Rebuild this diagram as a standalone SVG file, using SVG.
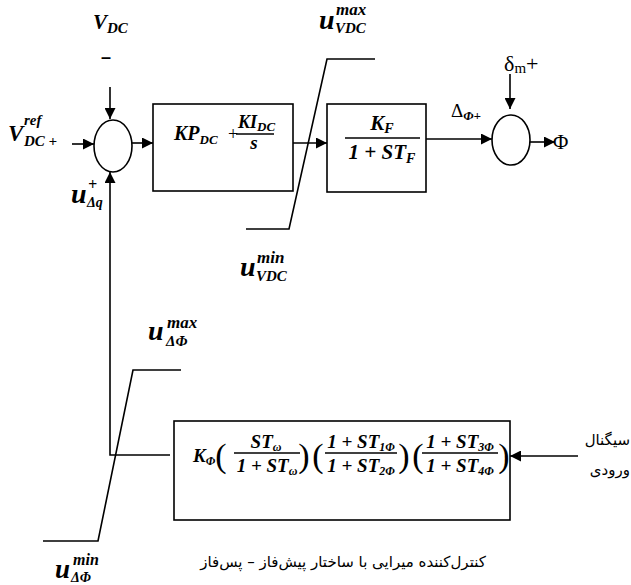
<svg xmlns="http://www.w3.org/2000/svg" width="631" height="585" viewBox="0 0 631 585">
<style>
.m{font-family:"Liberation Serif",serif;font-weight:bold;font-style:italic;fill:#000}
.r{font-family:"Liberation Serif",serif;fill:#000}
.p{font-family:"Liberation Serif",serif;fill:#000;font-size:34px;text-anchor:middle}
.fa{font-family:"DejaVu Sans","Noto Sans",sans-serif;fill:#000}
.ln{stroke:#000;stroke-width:1.6;fill:none}
.bx{fill:#fff;stroke:#000;stroke-width:1.6}
</style>
<defs>
<marker id="ah" markerUnits="userSpaceOnUse" markerWidth="11" markerHeight="11" refX="11" refY="5.5" orient="auto">
<path d="M0,0 L11,5.5 L0,11 z" fill="#000"/>
</marker>
</defs>
<rect width="631" height="585" fill="#fff"/>

<g id="connectors">
<line class="ln" x1="110" y1="87" x2="110" y2="119" marker-end="url(#ah)"/>
<line class="ln" x1="72" y1="144" x2="94" y2="144" marker-end="url(#ah)"/>
<line class="ln" x1="132" y1="143" x2="153" y2="143" marker-end="url(#ah)"/>
<line class="ln" x1="293" y1="143" x2="327" y2="143" marker-end="url(#ah)"/>
<line class="ln" x1="426" y1="139" x2="492" y2="139" marker-end="url(#ah)"/>
<line class="ln" x1="510" y1="74" x2="510" y2="109" marker-end="url(#ah)"/>
<line class="ln" x1="530" y1="142" x2="555" y2="142" marker-end="url(#ah)"/>
<line class="ln" x1="578" y1="456" x2="510" y2="456" marker-end="url(#ah)"/>
<polyline class="ln" points="170,455 110,455 110,172" marker-end="url(#ah)"/>
</g>

<g id="sat1">
<polyline class="ln" points="246,229 289,229 327,59 375,59"/>
</g>
<g id="sat2">
<polyline class="ln" points="43,541 98,541 133,370 181,370"/>
</g>

<g id="sum1">
<ellipse class="bx" cx="113" cy="146" rx="19" ry="26"/>
</g>
<g id="sum2">
<ellipse class="bx" cx="511" cy="140" rx="19" ry="25"/>
</g>

<g id="pi">
<rect class="bx" x="153" y="104" width="140" height="87"/>
<text class="m" x="174" y="140" font-size="20">KP<tspan font-size="13" dy="4">DC</tspan></text>
<text class="r" x="228" y="140" font-size="18">+</text>
<text class="m" x="238" y="128" font-size="18">KI<tspan font-size="13" dy="3">DC</tspan></text>
<line class="ln" x1="236" y1="134" x2="274" y2="134" stroke-width="1"/>
<text class="m" x="254" y="149" font-size="19" text-anchor="middle">s</text>
</g>

<g id="filter">
<rect class="bx" x="327" y="104" width="99" height="88"/>
<text class="m" x="382" y="130" font-size="21" text-anchor="middle">K<tspan font-size="14" dy="3">F</tspan></text>
<line class="ln" x1="345" y1="138" x2="420" y2="138" stroke-width="1.2"/>
<text class="m" x="382" y="159" font-size="21" text-anchor="middle">1 + ST<tspan font-size="14" dy="4">F</tspan></text>
</g>

<g id="leadlag">
<rect class="bx" x="174" y="421" width="336" height="99"/>
<text class="m" x="193" y="462" font-size="19">K<tspan font-size="12" dy="3">Φ</tspan></text>
<text class="p" x="221" y="467">(</text>
<text class="m" x="266" y="448" font-size="19" text-anchor="middle">ST<tspan font-size="12" dy="3">ω</tspan></text>
<line class="ln" x1="234" y1="453" x2="300" y2="453" stroke-width="1"/>
<text class="m" x="267" y="472" font-size="19" text-anchor="middle">1 + ST<tspan font-size="12" dy="3">ω</tspan></text>
<text class="p" x="304" y="467">)</text>
<text class="p" x="318" y="467">(</text>
<text class="m" x="361" y="448" font-size="19" text-anchor="middle">1 + ST<tspan font-size="12" dy="3">1Φ</tspan></text>
<line class="ln" x1="325" y1="453" x2="397" y2="453" stroke-width="1"/>
<text class="m" x="361" y="472" font-size="19" text-anchor="middle">1 + ST<tspan font-size="12" dy="3">2Φ</tspan></text>
<text class="p" x="404" y="467">)</text>
<text class="p" x="418" y="467">(</text>
<text class="m" x="460" y="448" font-size="19" text-anchor="middle">1 + ST<tspan font-size="12" dy="3">3Φ</tspan></text>
<line class="ln" x1="422" y1="453" x2="498" y2="453" stroke-width="1"/>
<text class="m" x="460" y="472" font-size="19" text-anchor="middle">1 + ST<tspan font-size="12" dy="3">4Φ</tspan></text>
<text class="p" x="504" y="467">)</text>
</g>

<g id="labels">
<text class="m" x="93" y="29" font-size="21">V<tspan font-size="15" dy="4">DC</tspan></text>
<text x="106" y="63" font-size="18" text-anchor="middle" font-family="Liberation Sans, sans-serif" font-weight="bold">–</text>
<text class="m" x="8" y="141" font-size="23">V</text>
<text class="m" x="24" y="125" font-size="15">ref</text>
<text class="m" x="24" y="146" font-size="15">DC +</text>
<text class="m" x="71" y="203" font-size="28">u</text>
<text class="m" x="88" y="190" font-size="16">+</text>
<text class="m" x="87" y="207" font-size="14">Δq</text>
<text class="m" x="319" y="29" font-size="28">u</text>
<text class="m" x="336" y="15" font-size="17">max</text>
<text class="m" x="335" y="33" font-size="15">VDC</text>
<text class="m" x="240" y="276" font-size="28">u</text>
<text class="m" x="257" y="263" font-size="17">min</text>
<text class="m" x="256" y="281" font-size="15">VDC</text>
<text class="m" x="148" y="340" font-size="28">u</text>
<text class="m" x="167" y="328" font-size="17">max</text>
<text class="m" x="166" y="346" font-size="15">ΔΦ</text>
<text class="m" x="55" y="578" font-size="27">u</text>
<text class="m" x="73" y="565" font-size="16">min</text>
<text class="m" x="71" y="582" font-size="14">ΔΦ</text>
<text class="r" x="451" y="117" font-size="19">Δ<tspan class="m" font-size="13" dy="3">Φ+</tspan></text>
<text class="r" x="504" y="71" font-size="22">δ<tspan font-size="15" dy="2">m</tspan><tspan dy="-2">+</tspan></text>
<text class="r" x="553" y="149" font-size="21">Φ</text>
<text class="fa" x="630" y="445" font-size="15" text-anchor="end">سیگنال</text>
<text class="fa" x="630" y="475" font-size="15" text-anchor="end">ورودی</text>
<text class="fa" x="343" y="567" font-size="15" text-anchor="middle">کنترل‌کننده میرایی با ساختار پیش‌فاز – پس‌فاز</text>
</g>
</svg>
